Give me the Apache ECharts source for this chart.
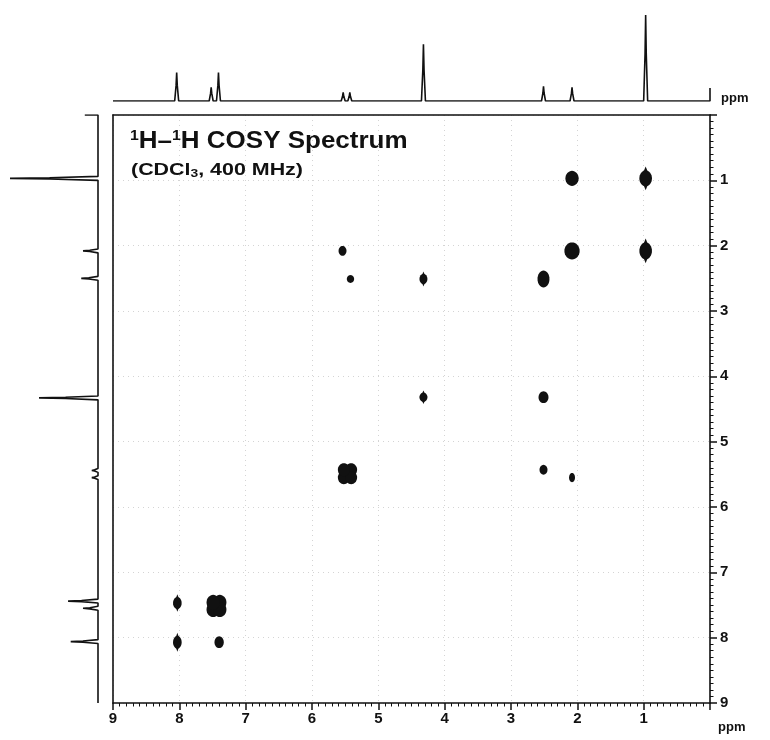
<!DOCTYPE html>
<html>
<head>
<meta charset="utf-8">
<script src="https://cdn.jsdelivr.net/npm/echarts@6/dist/echarts.min.js"></script>
<style>
  html, body { margin: 0; padding: 0; background: #fff; }
  #chart { width: 770px; height: 740px; }
</style>
</head>
<body>
<div id="chart"></div>
<script>
// Chemical-shift scale shared by both dimensions (ppm)
const ppmMin = 0;
const ppmMax = 9;
const ppmTickLabels = [1, 2, 3, 4, 5, 6, 7, 8, 9];

// F2 projection (top trace): [shift ppm, relative intensity]
const topPeaks = [
  [8.04, 33], [7.52, 16], [7.41, 33], [5.53, 10], [5.43, 10],
  [4.32, 66], [2.51, 17], [2.08, 16], [0.97, 100]
];

// F1 projection (left trace): [shift ppm, relative intensity]
const leftPeaks = [
  [8.06, 31], [7.55, 17], [7.44, 34], [5.55, 7], [5.44, 7],
  [4.33, 67], [2.50, 19], [2.08, 17], [0.97, 100]
];

// Contour spots: [F2 ppm, F1 ppm, F2 extent ppm, F1 extent ppm]
const crossPeaks = [
  [2.08, 0.97, 0.20, 0.23],
  [0.97, 0.97, 0.19, 0.36],
  [5.54, 2.08, 0.12, 0.15],
  [2.08, 2.08, 0.23, 0.26],
  [0.97, 2.08, 0.19, 0.38],
  [5.42, 2.51, 0.11, 0.12],
  [4.32, 2.51, 0.12, 0.23],
  [2.51, 2.51, 0.18, 0.26],
  [4.32, 4.32, 0.12, 0.21],
  [2.51, 4.32, 0.15, 0.18],
  [5.41, 5.43, 0.18, 0.20],
  [5.52, 5.55, 0.18, 0.20],
  [5.41, 5.55, 0.18, 0.20],
  [5.52, 5.43, 0.18, 0.20],
  [2.51, 5.43, 0.12, 0.15],
  [2.08, 5.55, 0.09, 0.14],
  [8.03, 7.47, 0.13, 0.27],
  [7.39, 7.46, 0.20, 0.23],
  [7.49, 7.57, 0.20, 0.23],
  [7.39, 7.57, 0.20, 0.23],
  [7.49, 7.46, 0.20, 0.23],
  [8.03, 8.07, 0.13, 0.29],
  [7.40, 8.07, 0.14, 0.18]
];

const INK = '#111';
const FONT = '"Liberation Sans", Arial, Helvetica, sans-serif';
const HOOK = 15;          // end-of-trace marker height (intensity units)
const HALF_BASE = 0.03;   // half width of a line foot (ppm)

// Build a stick-like trace from a peak list, running from ppmMax down to ppmMin
function buildTrace(peaks) {
  const pts = [[ppmMax, 0]];
  peaks.slice().sort((a, b) => b[0] - a[0]).forEach(([p, h]) => {
    pts.push([p + HALF_BASE, 0], [p + 0.009, h * 0.55], [p, h], [p - 0.009, h * 0.55], [p - HALF_BASE, 0]);
  });
  pts.push([ppmMin, 0], [ppmMin, HOOK]);
  return pts;
}
const topTrace = buildTrace(topPeaks);
const leftTrace = buildTrace(leftPeaks).map(([p, h]) => [h, p]);

function ellipsePoints(cx, cy, rx, ry) {
  const pts = [];
  for (let i = 0; i < 32; i++) {
    const a = (i / 32) * Math.PI * 2;
    pts.push([cx + rx * Math.cos(a), cy + ry * Math.sin(a)]);
  }
  return pts;
}

// Elongated multiplet spots get pointed ends, the rest are plain ovals
function renderSpot(params, api) {
  const c = api.coord([api.value(0), api.value(1)]);
  const s = api.size([api.value(2), api.value(3)]);
  const rx = s[0] / 2, ry = s[1] / 2;
  const style = { fill: INK, stroke: null };
  const children = [];
  if (ry / rx > 1.6) {
    children.push({ type: 'polygon', shape: { points: ellipsePoints(c[0], c[1], rx, ry * 0.68) }, style });
    children.push({ type: 'polygon', shape: { points: [[c[0], c[1] - ry], [c[0] + rx * 0.75, c[1]], [c[0], c[1] + ry], [c[0] - rx * 0.75, c[1]]] }, style });
  } else {
    children.push({ type: 'polygon', shape: { points: ellipsePoints(c[0], c[1], rx, ry) }, style });
  }
  return { type: 'group', children };
}

const labelFmt = v => (ppmTickLabels.indexOf(v) >= 0 ? String(v) : '');

const ppmAxisCommon = {
  type: 'value', min: ppmMin, max: ppmMax, interval: 1, inverse: true,
  axisLine: { show: true, onZero: false, lineStyle: { color: INK, width: 1.6 } },
  axisTick: { show: true, inside: false, length: 7, lineStyle: { color: INK, width: 1.5 } },
  minorTick: { show: true, splitNumber: 10, length: 3.5, lineStyle: { color: INK, width: 1 } },
  axisLabel: { color: INK, fontSize: 15, fontWeight: 'bold', fontFamily: FONT, formatter: labelFmt },
  splitLine: { show: true, lineStyle: { color: '#d4d4d4', width: 1, type: [1, 4] } },
  minorSplitLine: { show: false }
};

// Plain frame edges (top and left of the contour panel)
const frameEdge = {
  type: 'value', min: ppmMin, max: ppmMax, inverse: true,
  axisLine: { show: true, onZero: false, lineStyle: { color: INK, width: 1.6 } },
  axisTick: { show: false }, axisLabel: { show: false }, splitLine: { show: false }
};

const chart = echarts.init(document.getElementById('chart'), null, { renderer: 'canvas' });

chart.setOption({
  animation: false,
  backgroundColor: '#fff',
  grid: [
    { left: 113, top: 115, width: 597, height: 588 },
    { left: 113, top: 15, width: 597, height: 86 },
    { left: 10, top: 115, width: 88, height: 588 }
  ],
  xAxis: [
    Object.assign({}, ppmAxisCommon, { gridIndex: 0, position: 'bottom',
      axisLabel: Object.assign({}, ppmAxisCommon.axisLabel, { margin: 8 }) }),
    { gridIndex: 1, type: 'value', min: ppmMin, max: ppmMax, inverse: true, show: false },
    { gridIndex: 2, type: 'value', min: 0, max: 100, inverse: true, show: false },
    Object.assign({}, frameEdge, { gridIndex: 0, position: 'top' })
  ],
  yAxis: [
    Object.assign({}, ppmAxisCommon, { gridIndex: 0, position: 'right',
      axisLabel: Object.assign({}, ppmAxisCommon.axisLabel, { margin: 10 }) }),
    { gridIndex: 1, type: 'value', min: 0, max: 100, show: false },
    { gridIndex: 2, type: 'value', min: ppmMin, max: ppmMax, inverse: true, show: false },
    Object.assign({}, frameEdge, { gridIndex: 0, position: 'left' })
  ],
  series: [
    {
      type: 'custom', xAxisIndex: 0, yAxisIndex: 0, clip: true,
      data: crossPeaks, encode: { x: 0, y: 1 }, renderItem: renderSpot, silent: true
    },
    {
      type: 'line', xAxisIndex: 1, yAxisIndex: 1, data: topTrace,
      showSymbol: false, symbol: 'none', silent: true,
      lineStyle: { color: INK, width: 1.6 }
    },
    {
      type: 'line', xAxisIndex: 2, yAxisIndex: 2, data: leftTrace,
      showSymbol: false, symbol: 'none', silent: true,
      lineStyle: { color: INK, width: 1.6 }
    }
  ],
  graphic: [
    {
      type: 'text', x: 130, y: 129, scaleX: 1.13,
      style: {
        text: '{sup|1}H–{sup|1}H COSY Spectrum',
        fill: INK, font: 'bold 23px ' + FONT,
        rich: { sup: { fontSize: 14, fontWeight: 'bold', fontFamily: FONT, fill: INK, verticalAlign: 'top', padding: [0, 0, 11, 0] } }
      }
    },
    {
      type: 'text', x: 131, y: 162, scaleX: 1.26,
      style: {
        text: '(CDCl{sub|3}, 400 MHz)',
        fill: INK, font: 'bold 17px ' + FONT,
        rich: { sub: { fontSize: 11, fontWeight: 'bold', fontFamily: FONT, fill: INK, padding: [6, 0, 0, 0] } }
      }
    },
    { type: 'text', x: 718, y: 721, style: { text: 'ppm', fill: INK, font: 'bold 13px ' + FONT } },
    { type: 'text', x: 721, y: 92, style: { text: 'ppm', fill: INK, font: 'bold 13px ' + FONT } }
  ]
});
</script>
</body>
</html>
